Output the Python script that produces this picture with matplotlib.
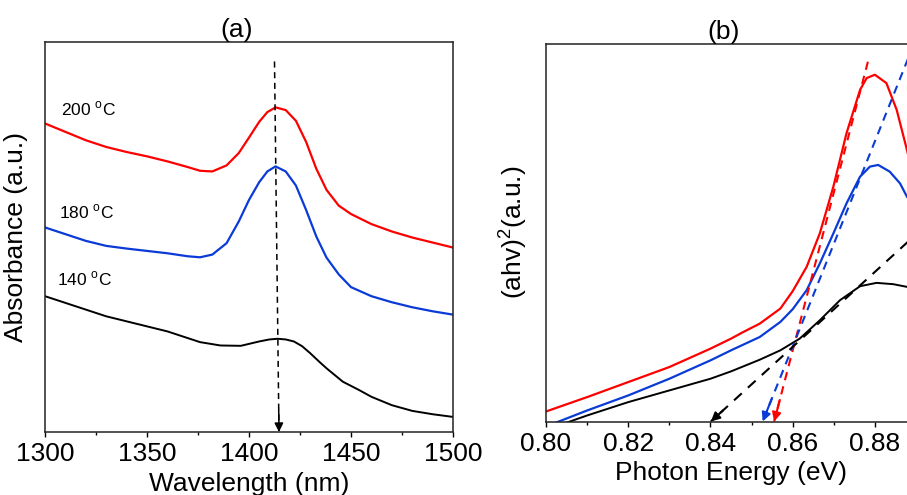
#!/usr/bin/env python3
"""Absorbance spectra (a) and Tauc-style plot (b) for three growth temperatures."""
import matplotlib
matplotlib.use("Agg")
import matplotlib.pyplot as plt

plt.rcParams["font.family"] = ["Liberation Sans", "DejaVu Sans"]
plt.rcParams["mathtext.fontset"] = "custom"
plt.rcParams["mathtext.rm"] = "Liberation Sans"

# ---- panel (a): absorbance vs wavelength (a.u.) ----
wl = [1300, 1310, 1320, 1330, 1340, 1350, 1360, 1370, 1376, 1382, 1389, 1395,
      1400, 1405, 1409, 1413, 1418, 1423, 1428, 1433, 1438, 1444, 1450, 1460,
      1470, 1480, 1490, 1500]
abs_200 = [0.920, 0.895, 0.870, 0.850, 0.835, 0.822, 0.807, 0.790, 0.779, 0.777,
           0.795, 0.832, 0.878, 0.925, 0.954, 0.968, 0.960, 0.928, 0.865, 0.785,
           0.722, 0.675, 0.650, 0.620, 0.598, 0.580, 0.565, 0.550]
abs_180 = [0.610, 0.590, 0.570, 0.555, 0.547, 0.540, 0.533, 0.524, 0.521, 0.529,
           0.563, 0.628, 0.692, 0.745, 0.777, 0.792, 0.777, 0.735, 0.662, 0.583,
           0.520, 0.470, 0.432, 0.405, 0.387, 0.372, 0.360, 0.350]
wl_140 = [1300, 1310, 1320, 1330, 1340, 1350, 1360, 1370, 1376, 1386, 1396, 1405,
          1410, 1414, 1418, 1422, 1426, 1430, 1434, 1438, 1442, 1446, 1454, 1460,
          1470, 1480, 1490, 1500]
abs_140 = [0.405, 0.385, 0.365, 0.345, 0.330, 0.315, 0.300, 0.280, 0.268, 0.258,
           0.257, 0.270, 0.276, 0.278, 0.276, 0.270, 0.256, 0.235, 0.212, 0.190,
           0.170, 0.150, 0.125, 0.105, 0.080, 0.063, 0.053, 0.045]
peak_line = [(1412.5, 1.105), (1414.7, 0.0)]
labels_a = ["200 $^\\mathregular{o}$C", "180 $^\\mathregular{o}$C", "140 $^\\mathregular{o}$C"]
label_pos_a = [(1308, 0.935), (1307, 0.628), (1306, 0.428)]

# ---- panel (b): (ahv)^2 vs photon energy (a.u.) ----
ev_200 = [0.800, 0.810, 0.820, 0.830, 0.840, 0.845, 0.848, 0.852, 0.857, 0.860,
          0.8634, 0.8666, 0.8699, 0.8731, 0.8764, 0.878, 0.880, 0.8828, 0.8853,
          0.8878, 0.890]
tauc_200 = [0.030, 0.073, 0.118, 0.163, 0.218, 0.248, 0.268, 0.293, 0.338, 0.390,
            0.463, 0.563, 0.703, 0.863, 0.993, 1.028, 1.038, 1.013, 0.933,
            0.813, 0.700]
ev_180 = [0.800, 0.810, 0.820, 0.830, 0.840, 0.845, 0.852, 0.857, 0.860, 0.8634,
          0.8666, 0.8699, 0.8731, 0.8764, 0.8788, 0.8808, 0.8836, 0.8861, 0.8878,
          0.890]
tauc_180 = [-0.015, 0.033, 0.078, 0.128, 0.183, 0.213, 0.253, 0.298, 0.336, 0.393,
            0.473, 0.563, 0.653, 0.733, 0.763, 0.768, 0.748, 0.713, 0.673,
            0.640]
ev_140 = [0.800, 0.810, 0.820, 0.830, 0.840, 0.845, 0.852, 0.857, 0.8617, 0.8666,
          0.8715, 0.8764, 0.8804, 0.8845, 0.8878, 0.890]
tauc_140 = [-0.025, 0.018, 0.058, 0.093, 0.128, 0.150, 0.185, 0.213, 0.248, 0.303,
            0.363, 0.405, 0.415, 0.411, 0.403, 0.400]
# tangent extrapolations: (top point, x-intercept)
tangent_200 = [(0.8783, 1.077), (0.8555, 0.0)]
tangent_180 = [(0.8890, 1.115), (0.8527, 0.0)]
tangent_140 = [(0.8900, 0.560), (0.8401, 0.0)]

RED, BLUE, BLACK = "#ff0000", "#0a3bd6", "#000000"
W, H = 907, 495


def dashed_arrow(ax, line, color, lw=1.5, dashes=(4, 3)):
    (x0, y0), (x1, y1) = line
    ax.plot([x0, x1], [y0, y1], color=color, lw=lw, dashes=dashes, clip_on=False)
    # short solid stub carrying the arrowhead at the lower end
    f = 0.06
    ax.annotate("", xy=(x1, y1), xytext=(x1 + f * (x0 - x1), y1 + f * (y0 - y1)),
                arrowprops=dict(arrowstyle="-|>", color=color, lw=lw,
                                mutation_scale=13, shrinkA=0, shrinkB=0))


def style_axis(ax):
    for s in ax.spines.values():
        s.set_linewidth(1.1)
        s.set_color("#222222")
    ax.set_yticks([])
    ax.tick_params(axis="x", which="major", direction="out", length=3.5,
                   width=1.0, labelsize=19, pad=4)
    ax.tick_params(axis="x", which="minor", direction="out", length=2.5, width=1.0)


def main():
    fig = plt.figure(figsize=(W / 100, H / 100), dpi=100, facecolor="white")

    # (a)
    ax = fig.add_axes([45 / W, 1 - 432 / H, 408 / W, 390 / H])
    ax.plot(wl, abs_200, color=RED, lw=1.6)
    ax.plot(wl, abs_180, color=BLUE, lw=1.6)
    ax.plot(wl_140, abs_140, color=BLACK, lw=1.4)
    dashed_arrow(ax, peak_line, BLACK, lw=1.1)
    for txt, (x, y) in zip(labels_a, label_pos_a):
        ax.text(x, y, txt, fontsize=12.5, ha="left", va="bottom")
    ax.set_xlim(1300, 1500)
    ax.set_ylim(0, 1.163)
    ax.set_xticks([1300, 1350, 1400, 1450, 1500])
    ax.set_xticks([1325, 1375, 1425, 1475], minor=True)
    style_axis(ax)
    ax.set_xlabel("Wavelength (nm)", fontsize=19, labelpad=4)
    ax.set_ylabel("Absorbance (a.u.)", fontsize=19, labelpad=12)
    ax.set_title("(a)", fontsize=19, pad=2, x=0.47)

    # (b) -- right part of the axes runs off the canvas
    bx = fig.add_axes([546 / W, 1 - 421.5 / H, 370 / W, 377.5 / H])
    bx.plot(ev_200, tauc_200, color=RED, lw=1.6)
    bx.plot(ev_180, tauc_180, color=BLUE, lw=1.6)
    bx.plot(ev_140, tauc_140, color=BLACK, lw=1.4)
    dashed_arrow(bx, tangent_200, RED)
    dashed_arrow(bx, tangent_180, BLUE)
    dashed_arrow(bx, tangent_140, BLACK, dashes=(5, 4))
    bx.set_xlim(0.80, 0.89)
    bx.set_ylim(0, 1.130)
    bx.set_xticks([0.80, 0.82, 0.84, 0.86, 0.88])
    bx.set_xticks([0.81, 0.83, 0.85, 0.87, 0.89], minor=True)
    bx.set_xticklabels(["0.80", "0.82", "0.84", "0.86", "0.88"])
    style_axis(bx)
    bx.set_xlabel("Photon Energy (eV)", fontsize=19, labelpad=4)
    bx.set_ylabel("(ahv)$^\\mathregular{2}$(a.u.)", fontsize=19, labelpad=12)
    bx.set_title("(b)", fontsize=19, pad=2, x=0.48)

    fig.savefig("out.png", dpi=100, facecolor="white")
    plt.close(fig)


if __name__ == "__main__":
    main()
